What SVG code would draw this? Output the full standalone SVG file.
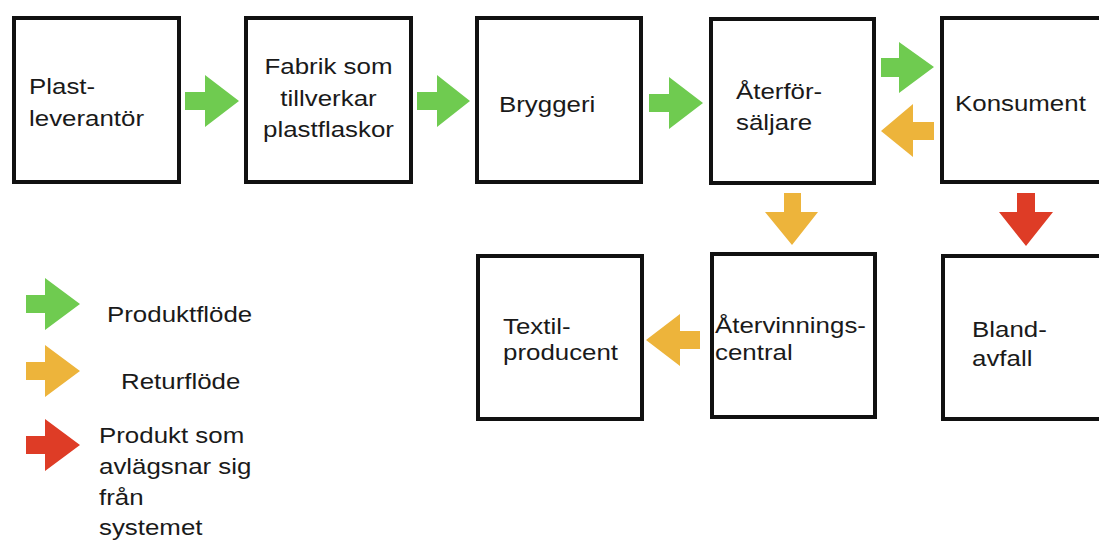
<svg xmlns="http://www.w3.org/2000/svg" width="1099" height="541" viewBox="0 0 1099 541">
<style>
.box{fill:#fff;stroke:#111;stroke-width:4}
.t{font-family:"Liberation Sans",Arial,Helvetica,sans-serif;font-size:22.5px;fill:#1a1a1a}
.c{text-anchor:middle}
.g{fill:#6FCB50}
.y{fill:#EDB43B}
.r{fill:#DE3C26}
</style>
<rect width="1099" height="541" fill="#fff"/>
<g id="connectors">
<polygon class="g" points="185,92 205,92 205,75 239,101 205,127 205,110 185,110"/>
<polygon class="g" points="417,92 437,92 437,75 470,101 437,127 437,110 417,110"/>
<polygon class="g" points="649,94 669,94 669,77 703,103 669,129 669,112 649,112"/>
<polygon class="g" points="881,58 899,58 899,42 934,67 899,93 899,77 881,77"/>
<polygon class="y" points="934,122 913,122 913,104 881,131 913,157 913,140 934,140"/>
<polygon class="y" points="784,193 801,193 801,212 818,212 792,245 765,212 784,212"/>
<polygon class="r" points="1017,193 1035,193 1035,212 1053,212 1026,246 999,212 1017,212"/>
<polygon class="y" points="700,331 680,331 680,314 646,340 680,366 680,349 700,349"/>
</g>
<g id="n1"><rect class="box" x="14" y="18" width="165" height="164"/>
<text class="t" transform="translate(29,94) scale(1.15,1)">Plast-</text>
<text class="t" transform="translate(29,126) scale(1.15,1)">leverantör</text></g>
<g id="n2"><rect class="box" x="246" y="18" width="165" height="164"/>
<text class="t c" transform="translate(328.5,74) scale(1.15,1)">Fabrik som</text>
<text class="t c" transform="translate(328.5,106) scale(1.15,1)">tillverkar</text>
<text class="t c" transform="translate(328.5,137) scale(1.15,1)">plastflaskor</text></g>
<g id="n3"><rect class="box" x="477" y="18" width="164" height="164"/>
<text class="t" transform="translate(499,112) scale(1.15,1)">Bryggeri</text></g>
<g id="n4"><rect class="box" x="711" y="19" width="163" height="164"/>
<text class="t" transform="translate(736,99) scale(1.15,1)">Återför-</text>
<text class="t" transform="translate(736,130) scale(1.15,1)">säljare</text></g>
<g id="n5"><rect class="box" x="942" y="18" width="170" height="164"/>
<text class="t" transform="translate(955,111) scale(1.15,1)">Konsument</text></g>
<g id="n6"><rect class="box" x="478" y="256" width="164" height="163"/>
<text class="t" transform="translate(503,334) scale(1.15,1)">Textil-</text>
<text class="t" transform="translate(503,360) scale(1.15,1)">producent</text></g>
<g id="n7"><rect class="box" x="712" y="254" width="163" height="163"/>
<text class="t" transform="translate(715,333) scale(1.15,1)">Återvinnings-</text>
<text class="t" transform="translate(715,360) scale(1.15,1)">central</text></g>
<g id="n8"><rect class="box" x="943" y="256" width="170" height="163"/>
<text class="t" transform="translate(972,337) scale(1.15,1)">Bland-</text>
<text class="t" transform="translate(972,366) scale(1.15,1)">avfall</text></g>
<g id="legend">
<polygon class="g" points="26,295 45,295 45,278 80,304 45,330 45,313 26,313"/>
<polygon class="y" points="26,362 45,362 45,345 80,371 45,397 45,380 26,380"/>
<polygon class="r" points="26,436 45,436 45,419 80,445 45,471 45,454 26,454"/>
<text class="t" transform="translate(107,322) scale(1.15,1)">Produktflöde</text>
<text class="t" transform="translate(121,389) scale(1.15,1)">Returflöde</text>
<text class="t" transform="translate(99,443) scale(1.15,1)">Produkt som</text>
<text class="t" transform="translate(99,474) scale(1.15,1)">avlägsnar sig</text>
<text class="t" transform="translate(99,505) scale(1.15,1)">från</text>
<text class="t" transform="translate(99,535) scale(1.15,1)">systemet</text>
</g>
</svg>
